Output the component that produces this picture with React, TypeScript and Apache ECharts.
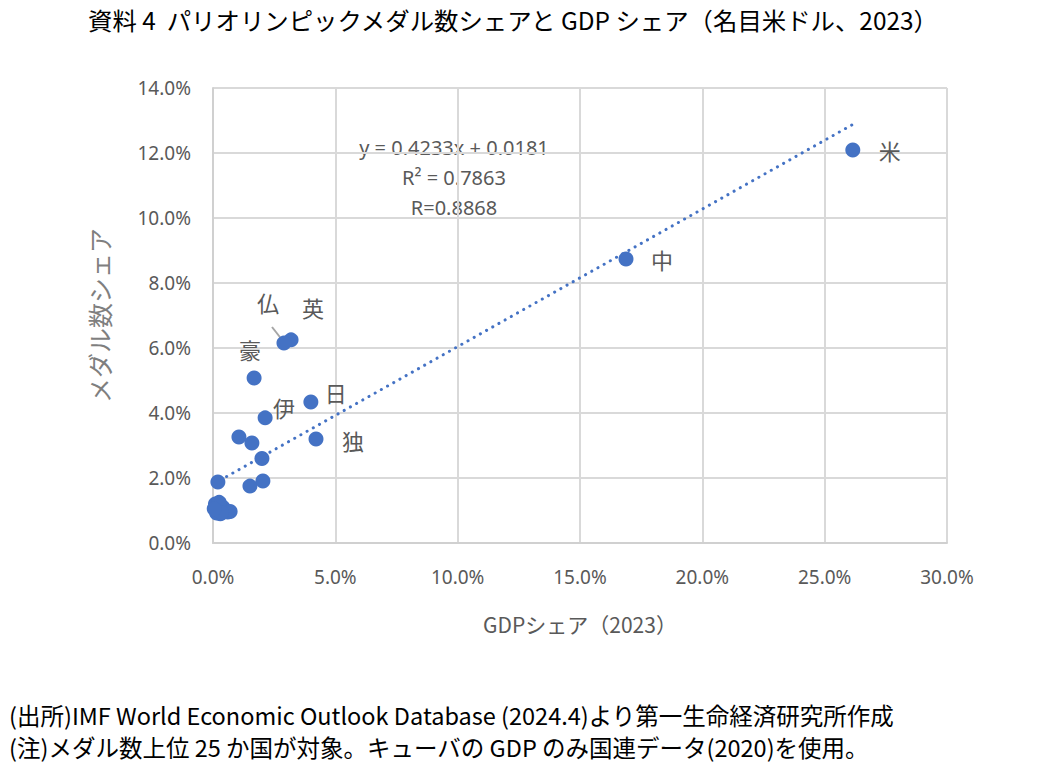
import React, { useEffect, useRef } from "react";
import * as echarts from "echarts";

// GDP share (%) and medal share (%) for the top-25 medal countries
const countryLabels = ["米", "中", "英", "仏", "豪", "日", "伊", "独", "", "", "", "", "", "", "", "", "", "", "", "", "", "", "", "", ""];
const gdpShare = [26.15, 16.88, 3.19, 2.9, 1.68, 4.0, 2.13, 4.21, 1.06, 1.59, 2.0, 0.2, 1.51, 2.04, 0.1, 0.2, 0.3, 0.15, 0.4, 0.5, 0.6, 0.7, 0.25, 0.35, 0.05];
const medalShare = [12.09, 8.74, 6.25, 6.15, 5.08, 4.34, 3.85, 3.2, 3.26, 3.08, 2.6, 1.88, 1.75, 1.91, 1.2, 1.0, 0.9, 0.92, 1.1, 1.0, 0.95, 0.97, 1.25, 0.93, 1.05];
// label offsets (px) relative to the point centre
const labelDx = [37, 36, 22, -16, -4, 25, 19, 37];
const labelDy = [0, 0, -33, -41, -29, -10, -11, 1];

const xTicks = [0, 5, 10, 15, 20, 25, 30];
const yTicks = [0, 2, 4, 6, 8, 10, 12, 14];

const slope = 0.4233;
const intercept = 1.81; // 0.0181 in %
const trendX = [0.05, 26.15];

const title = "資料 4  パリオリンピックメダル数シェアと GDP シェア（名目米ドル、2023）";
const note1 = "(出所)IMF World Economic Outlook Database (2024.4)より第一生命経済研究所作成";
const note2 = "(注)メダル数上位 25 か国が対象。キューバの GDP のみ国連データ(2020)を使用。";
const eqLines = ["y = 0.4233x + 0.0181", "R² = 0.7863", "R=0.8868"];

export default function App() {
  const ref = useRef<HTMLDivElement>(null);
  useEffect(() => {
    document.body.style.margin = "0";
    const chart = echarts.init(ref.current!, undefined, { renderer: "svg" });
    const grey = "#595959";
    const data = gdpShare.map((x, i) => {
      const item: any = { value: [x, medalShare[i]] };
      if (countryLabels[i]) {
        item.label = {
          show: true,
          formatter: countryLabels[i],
          position: "inside",
          offset: [labelDx[i], labelDy[i]],
          color: grey,
          fontSize: 22,
          fontFamily: "Noto Sans CJK JP",
        };
      }
      return item;
    });
    const trend = trendX.map((x) => [x, slope * x + intercept]);
    chart.setOption({
      animation: false,
      backgroundColor: "#ffffff",
      grid: { left: 213, right: 112, top: 88, bottom: 226 },
      xAxis: {
        type: "value",
        min: xTicks[0],
        max: xTicks[xTicks.length - 1],
        interval: 5,
        name: "GDPシェア（2023）",
        nameLocation: "middle",
        nameGap: 70,
        nameTextStyle: { color: grey, fontSize: 21, fontFamily: "Noto Sans CJK JP" },
        axisLine: { lineStyle: { color: "#d0d0d0", width: 2 } },
        axisTick: { show: false },
        axisLabel: { color: grey, fontSize: 19, margin: 24, fontFamily: "Noto Sans", formatter: (v: number) => v.toFixed(1) + "%" },
        splitLine: { show: true, lineStyle: { color: "#d9d9d9", width: 2 } },
      },
      yAxis: {
        type: "value",
        min: yTicks[0],
        max: yTicks[yTicks.length - 1],
        interval: 2,
        name: "メダル数シェア",
        nameLocation: "middle",
        nameRotate: 90,
        nameGap: 102,
        nameTextStyle: { color: "#7f7f7f", fontSize: 25, fontFamily: "Noto Sans CJK JP" },
        axisLine: { show: true, lineStyle: { color: "#d0d0d0", width: 2 } },
        axisTick: { show: false },
        axisLabel: { color: grey, fontSize: 19, margin: 22, fontFamily: "Noto Sans", formatter: (v: number) => v.toFixed(1) + "%" },
        splitLine: { show: true, lineStyle: { color: "#d9d9d9", width: 2 } },
      },
      series: [
        {
          type: "line",
          data: trend,
          symbol: "none",
          lineStyle: { color: "#4472C4", width: 3, type: [0.1, 7], cap: "round" },
          z: 1,
          silent: true,
        },
        {
          type: "scatter",
          data,
          symbolSize: 15,
          itemStyle: { color: "#4472C4", opacity: 1 },
          z: 2,
        },
      ],
      graphic: [
        {
          type: "text",
          left: 88,
          top: 7,
          style: { text: title, fill: "#000", fontSize: 24.4, fontFamily: "Noto Sans CJK JP" },
        },
        ...eqLines.map((t, i) => ({
          type: "text",
          x: 454,
          y: 147 + i * 30,
          style: { text: t, fill: grey, fontSize: 20, fontFamily: "Noto Sans", align: "center", verticalAlign: "middle" },
        })),
        {
          type: "line",
          shape: { x1: 272, y1: 327, x2: 283, y2: 341 },
          style: { stroke: "#a6a6a6", lineWidth: 2 },
          z: 1,
        },
        {
          type: "text",
          left: 9,
          top: 703,
          style: { text: note1, fill: "#000", fontSize: 23.5, fontFamily: "Noto Sans CJK JP" },
        },
        {
          type: "text",
          left: 9,
          top: 735,
          style: { text: note2, fill: "#000", fontSize: 23.5, fontFamily: "Noto Sans CJK JP" },
        },
      ],
    });
    return () => chart.dispose();
  }, []);
  return <div ref={ref} style={{ width: 1059, height: 769 }} />;
}
